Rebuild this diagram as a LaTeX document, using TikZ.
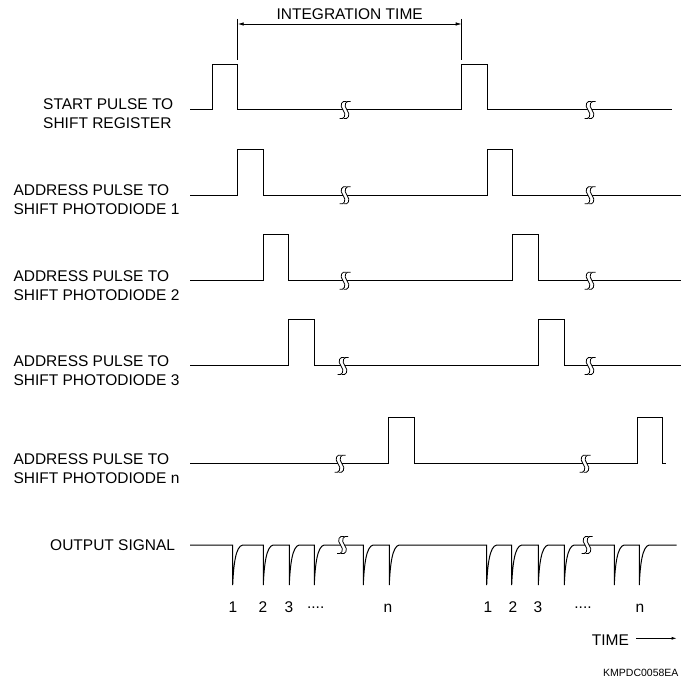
\documentclass[tikz,border=0pt]{standalone}
\usepackage{fontspec}
\setmainfont{Liberation Sans}
\usetikzlibrary{arrows.meta}
\newcommand\sbreak[2]{%
  \foreach \o in {-2,2}{%
    \draw[brkmark] ({#1+\o+3.5},{#2-8.5}) .. controls ({#1+\o-1},{#2-10}) and ({#1+\o-4},{#2-5}) .. ({#1+\o},{#2})
      .. controls ({#1+\o+4},{#2+5}) and ({#1+\o+1},{#2+10}) .. ({#1+\o-3.5},{#2+8.5});}}
\newcommand\middots{\raisebox{3.6pt}{....}}
\tikzset{
  sig/.style={line width=1pt, line join=miter},
  brkmark/.style={line width=0.8pt},
  lbl/.style={font=\fontsize{15.5}{19}\selectfont, inner sep=0pt, anchor=base west},
  num/.style={font=\fontsize{15.5}{19}\selectfont, inner sep=0pt, anchor=base},
}
\begin{document}
\begin{tikzpicture}[x=1pt,y=-1pt]
\useasboundingbox (0,0) rectangle (689,679);

% integration time
\coordinate (itL) at (237.7,24);
\coordinate (itR) at (461.7,24);
\draw[line width=0.8pt] (237.7,19) -- (237.7,60);
\draw[line width=0.8pt] (461.7,19) -- (461.7,60);
\draw[line width=0.8pt, {Latex[length=6pt,width=3.5pt]}-{Latex[length=6pt,width=3.5pt]}] (itL) -- (itR);
\node[num] (itlbl) at (349.7,20) {INTEGRATION TIME};

% row 1: start pulse
\node[lbl] (r1a) at (43,110) {START PULSE TO};
\node[lbl] (r1b) at (43,129) {SHIFT REGISTER};
\draw[sig] (190,110) -- (212.3,110) |- (237.7,64.5) |- (343,110);
\draw[sig] (347,110) -- (461.7,110) |- (487,64.5) |- (588,110);
\draw[sig] (592,110) -- (672,110);
\sbreak{345}{110}\sbreak{590}{110}

% row 2
\node[lbl] (r2a) at (13.3,196) {ADDRESS PULSE TO};
\node[lbl] (r2b) at (13.3,215) {SHIFT PHOTODIODE 1};
\draw[sig] (190,195.3) -- (237.7,195.3) |- (263.3,149.3) |- (343,195.3);
\draw[sig] (347,195.3) -- (487.3,195.3) |- (512.7,149.3) |- (588,195.3);
\draw[sig] (592,195.3) -- (680.7,195.3);
\sbreak{345}{195.3}\sbreak{590}{195.3}

% row 3
\node[lbl] (r3a) at (13.3,281.3) {ADDRESS PULSE TO};
\node[lbl] (r3b) at (13.3,300.3) {SHIFT PHOTODIODE 2};
\draw[sig] (190,280.7) -- (263.3,280.7) |- (288.7,234.7) |- (343,280.7);
\draw[sig] (347,280.7) -- (512.7,280.7) |- (538.3,234.7) |- (588,280.7);
\draw[sig] (592,280.7) -- (680.7,280.7);
\sbreak{345}{280.7}\sbreak{590}{280.7}

% row 4
\node[lbl] (r4a) at (13.3,366.6) {ADDRESS PULSE TO};
\node[lbl] (r4b) at (13.3,385.6) {SHIFT PHOTODIODE 3};
\draw[sig] (190,366) -- (288.7,366) |- (314.7,320) |- (341,366);
\draw[sig] (345,366) -- (538.3,366) |- (564,320) |- (588,366);
\draw[sig] (592,366) -- (680.7,366);
\sbreak{343}{366}\sbreak{590}{366}

% row 5
\node[lbl] (r5a) at (13.3,464.3) {ADDRESS PULSE TO};
\node[lbl] (r5b) at (13.3,483.3) {SHIFT PHOTODIODE n};
\draw[sig] (190,463.7) -- (338,463.7);
\draw[sig] (342,463.7) -- (388.7,463.7) |- (414.3,417.7) |- (583,463.7);
\draw[sig] (587,463.7) -- (637,463.7) |- (662.3,417.7) |- (666,463.7);
\sbreak{340}{463.7}\sbreak{585}{463.7}

% output signal
\node[lbl] (outlbl) at (50,550.5) {OUTPUT SIGNAL};
\draw[sig] (190,545) foreach \x in {232.7,263.3,289.3,314.3}{ -- (\x,545) -- (\x,585) .. controls (\x+0.8,565) and (\x+3,546) .. (\x+10,545)} -- (340.5,545);
\draw[sig] (344.5,545) foreach \x in {363.3,389.3,486.7,511.7,538.3,564.3}{ -- (\x,545) -- (\x,585) .. controls (\x+0.8,565) and (\x+3,546) .. (\x+10,545)} -- (585,545);
\draw[sig] (589,545) foreach \x in {614.3,639.3}{ -- (\x,545) -- (\x,585) .. controls (\x+0.8,565) and (\x+3,546) .. (\x+10,545)} -- (676.7,545);
\sbreak{342.5}{545}\sbreak{587}{545}

% pulse numbers
\node[num] (n1a) at (233,612) {1};
\node[num] (n2a) at (263,612) {2};
\node[num] (n3a) at (289,612) {3};
\node[num] (nda) at (315.7,612) {\middots};
\node[num] (nna) at (388,612) {n};
\node[num] (n1b) at (488,612) {1};
\node[num] (n2b) at (513,612) {2};
\node[num] (n3b) at (538,612) {3};
\node[num] (ndb) at (583,612) {\middots};
\node[num] (nnb) at (640,612) {n};

% time arrow
\node[lbl] (time) at (591.7,645) {TIME};
\coordinate (tA) at (636,638.3);
\coordinate (tB) at (676.7,638.3);
\draw[line width=0.8pt, -{Latex[length=5pt,width=3pt]}] (tA) -- (tB);

% code
\node[lbl, font=\fontsize{10.5}{12}\selectfont] (code) at (603,676) {KMPDC0058EA};
\end{tikzpicture}
\end{document}
